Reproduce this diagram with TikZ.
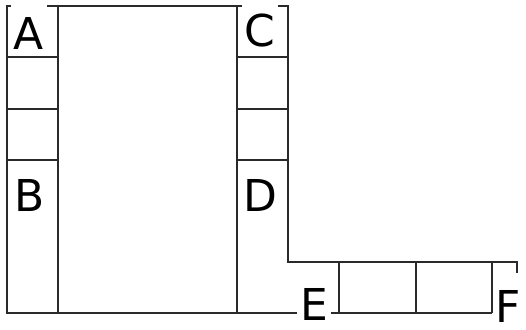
\documentclass[tikz,border=0pt]{standalone}
\usepackage{fontspec}
\setmainfont{DejaVu Sans}
\usetikzlibrary{positioning}
\definecolor{WallDark}{HTML}{2A2A2A}

\begin{document}
\begin{tikzpicture}[x=0.02cm, y=-0.02cm,
    wall/.style={draw=WallDark, line width=0.8pt},
    letter/.style={fill=white, anchor=base, inner xsep=1.5pt, inner ysep=1pt,
      text height=25.5pt, text depth=0pt, font=\fontsize{25}{25}\selectfont}]
  \useasboundingbox (0,0) rectangle (526,330);
  % outline
  \draw[wall] (517,273) -- (517,262) -- (288,262) -- (288,6) -- (7,6)
    -- (7,313) -- (492,313);
  \draw[wall] (58,6) -- (58,313);
  \draw[wall] (237,6) -- (237,313);
  % cells
  \foreach \yy in {57,109,160}{
    \draw[wall] (7,\yy) -- (58,\yy);
    \draw[wall] (237,\yy) -- (288,\yy);
  }
  \foreach \xx in {339,416,492}
    \draw[wall] (\xx,262) -- (\xx,313);
  % labels
  \node[letter] (a) at (29,50) {A};
  \node[letter] (b) at (30,212) {B};
  \node[letter] (c) at (260,47) {C};
  \node[letter] (d) at (260,212) {D};
  \node[letter] (e) at (314,320) {E};
  \node[letter] (f) at (508,322) {F};
\end{tikzpicture}
\end{document}
